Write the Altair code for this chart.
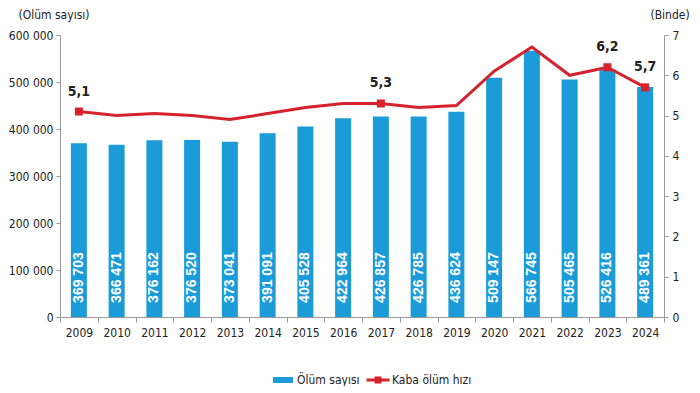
import altair as alt
import pandas as pd

years = [str(y) for y in range(2009, 2025)]
deaths = [369703, 366471, 376162, 376520, 373041, 391091, 405528, 422964,
          426857, 426785, 436624, 509147, 566745, 505465, 526416, 489361]
rates = [5.1, 5.0, 5.05, 5.0, 4.9, 5.05, 5.2, 5.3, 5.3, 5.2, 5.25, 6.1, 6.7, 6.0, 6.2, 5.7]
rate_labels = ["5,1", "", "", "", "", "", "", "", "5,3", "", "", "", "", "", "6,2", "5,7"]
series = ["Ölüm sayısı", "Kaba ölüm hızı"]
left_ticks = [0, 100000, 200000, 300000, 400000, 500000, 600000]
right_ticks = [0, 1, 2, 3, 4, 5, 6, 7]

RED = "#d5222c"
BLUE = "#1b9bd7"
FONT = "DejaVu Sans Condensed, Liberation Sans, sans-serif"
BOLD = "Liberation Sans, Arial, sans-serif"
TXT = "#222222"
AX = "#9a9a9a"

df = pd.DataFrame({
    "year": years,
    "deaths": deaths,
    "dlabel": [f"{v:,}".replace(",", " ") for v in deaths],
    "rate": rates,
    "rlabel": rate_labels,
})

base = alt.Chart(df)

x = alt.X("year:N",
          scale=alt.Scale(paddingInner=0, paddingOuter=0),
          axis=alt.Axis(title=None, labelAngle=0, tickBand="extent",
                        domainColor=AX, tickColor=AX, tickSize=5,
                        labelFont=FONT, labelFontSize=12, labelColor=TXT,
                        labelPadding=5))

yl_scale = alt.Scale(domain=[0, 600000], nice=False)
yl_axis = alt.Axis(values=left_ticks, grid=False,
                   labelExpr="replace(format(datum.value, ','), ',', ' ')",
                   domainColor=AX, tickColor=AX, tickSize=4,
                   labelFont=FONT, labelFontSize=12, labelColor=TXT, labelPadding=3,
                   title="(Ölüm sayısı)", titleAngle=0, titleAlign="left",
                   titleBaseline="top", titleX=-42, titleY=-26,
                   titleFont=FONT, titleFontSize=12, titleFontWeight="normal",
                   titleColor=TXT)

bars = base.mark_bar(size=16, color=BLUE).encode(
    x=x,
    y=alt.Y("deaths:Q", scale=yl_scale, axis=yl_axis),
)
bar_text = base.mark_text(angle=270, align="left", baseline="middle",
                          color="white", fontWeight="bold", fontSize=14,
                          font=BOLD).encode(
    x=x,
    y=alt.datum(30000),
    text="dlabel:N",
)
left = alt.layer(bars, bar_text)

yr_scale = alt.Scale(domain=[0, 7], nice=False)
yr_axis = alt.Axis(orient="right", values=right_ticks, grid=False,
                   domainColor=AX, tickColor=AX, tickSize=4,
                   labelFont=FONT, labelFontSize=12, labelColor=TXT, labelPadding=4,
                   title="(Binde)", titleAngle=0, titleAlign="left",
                   titleBaseline="top", titleX=-14, titleY=-26,
                   titleFont=FONT, titleFontSize=12, titleFontWeight="normal",
                   titleColor=TXT)

line = base.mark_line(color=RED, strokeWidth=3).encode(
    x=x,
    y=alt.Y("rate:Q", scale=yr_scale, axis=yr_axis),
)
pts = base.transform_filter("datum.rlabel != ''").mark_point(
    shape="square", filled=True, color=RED, size=64, opacity=1).encode(
    x=x, y=alt.Y("rate:Q", scale=yr_scale, axis=yr_axis))
pt_text = base.transform_filter("datum.rlabel != ''").mark_text(
    dy=-20, fontSize=14, fontWeight="bold", font=FONT, color=TXT).encode(
    x=x, y=alt.Y("rate:Q", scale=yr_scale, axis=yr_axis), text="rlabel:N")
right = alt.layer(line, pts, pt_text)

bar_sym = "M-2,-0.6L2,-0.6L2,0.6L-2,0.6Z"
line_sym = ("M-2.3,-0.28L2.3,-0.28L2.3,0.28L-2.3,0.28Z "
            "M-0.7,-0.7L0.7,-0.7L0.7,0.7L-0.7,0.7Z")
leg = alt.Legend(orient="none", legendX=217, legendY=339, direction="horizontal",
                 title=None, symbolSize=100, symbolStrokeWidth=0, symbolOpacity=1,
                 labelFont=FONT, labelFontSize=12, labelColor=TXT,
                 columnPadding=6, labelOffset=8)
legend_df = pd.DataFrame({"series": series})
legend_layer = alt.Chart(legend_df).mark_point(filled=True, opacity=0).encode(
    color=alt.Color("series:N", scale=alt.Scale(domain=series, range=[BLUE, RED]), legend=leg),
    shape=alt.Shape("series:N", scale=alt.Scale(domain=series, range=[bar_sym, line_sym]), legend=leg),
)

chart = alt.layer(left, right, legend_layer).resolve_scale(y="independent").properties(
    width=604, height=282,
    padding={"left": 0, "top": 0, "right": 0, "bottom": 0},
    background="white",
).configure_view(stroke=None)

chart.save("out.html", embed_options={"renderer": "svg", "actions": False})
